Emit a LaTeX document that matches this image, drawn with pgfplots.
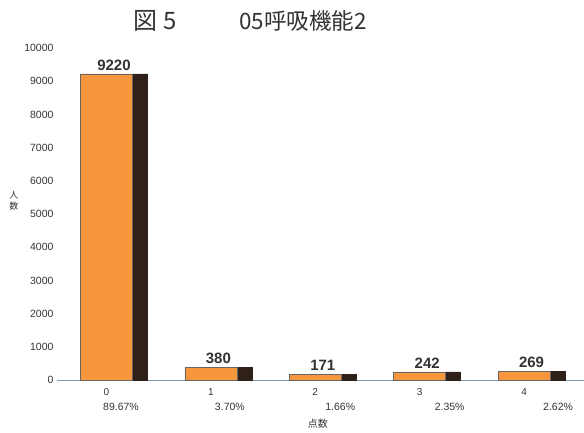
\documentclass[border=0pt]{standalone}
\usepackage{fontspec}
\setmainfont{Liberation Sans}
\newfontfamily\jp{Noto Sans CJK JP}
\usepackage{pgfplots}
\pgfplotsset{compat=1.18}
\definecolor{barorange}{HTML}{F8963E}
\definecolor{bardark}{HTML}{2F2019}
\definecolor{axisline}{HTML}{7F9CB0}
\definecolor{txt}{HTML}{333333}
\begin{document}
\begin{tikzpicture}
\useasboundingbox (-57pt,-53pt) rectangle (527pt,380pt);
\begin{axis}[
  scale only axis, width=527pt, height=332pt,
  xmin=-0.474, xmax=4.574, ymin=0, ymax=10000,
  axis x line=bottom, axis y line=left,
  x axis line style={-, draw=axisline, line width=0.8pt},
  y axis line style={draw=none},
  xtick={0,1,2,3,4},
  xticklabels={{0\\{\fontsize{10.5}{10}\selectfont\hspace*{29pt}89.67\%}},{1\\{\fontsize{10.5}{10}\selectfont\hspace*{38pt}3.70\%}},{2\\{\fontsize{10.5}{10}\selectfont\hspace*{50pt}1.66\%}},{3\\{\fontsize{10.5}{10}\selectfont\hspace*{60pt}2.35\%}},{4\\{\fontsize{10.5}{10}\selectfont\hspace*{68pt}2.62\%}}},
  xticklabel style={align=center, font=\fontsize{10}{15}\selectfont, text=txt, yshift=-5pt},
  ytick={0,1000,...,10000},
  scaled y ticks=false,
  yticklabel style={font=\fontsize{10.5}{10}\selectfont, text=txt},
  /pgf/number format/1000 sep={},
  /pgf/number format/assume math mode=true,
  major tick length=0pt,
  xtick style={draw=none}, ytick style={draw=none},
  xlabel={\jp 点数},
  xlabel style={at={(axis description cs:0.495,-0.133)}, anchor=center, font=\fontsize{10}{10}\selectfont, text=txt},
  ylabel={\jp 人\\\jp 数},
  ylabel style={at={(axis description cs:-0.082,0.54)}, anchor=center, rotate=-90, align=center, font=\fontsize{9}{11}\selectfont, text=txt},
  clip=false,
]
\addplot[ybar, bar width=15pt, bar shift=33.5pt, fill=bardark, draw=bardark]
  coordinates {(0,9220) (1,380) (2,171) (3,242) (4,269)};
\addplot[ybar, bar width=52pt, bar shift=0pt, fill=barorange, draw=black!60, line width=0.4pt,
  nodes near coords,
  nodes near coords style={font=\bfseries\fontsize{15}{14}\selectfont, text=txt, xshift=7.5pt, /pgf/number format/assume math mode=true}]
  coordinates {(0,9220) (1,380) (2,171) (3,242) (4,269)};
\node[font=\jp\fontsize{24}{24}\selectfont, text=txt] at (axis description cs:0.186,1.081) {図 5};
\node[font=\jp\fontsize{22.5}{22}\selectfont, text=txt] at (axis description cs:0.467,1.081) {05呼吸機能2};
\end{axis}
\end{tikzpicture}
\end{document}
